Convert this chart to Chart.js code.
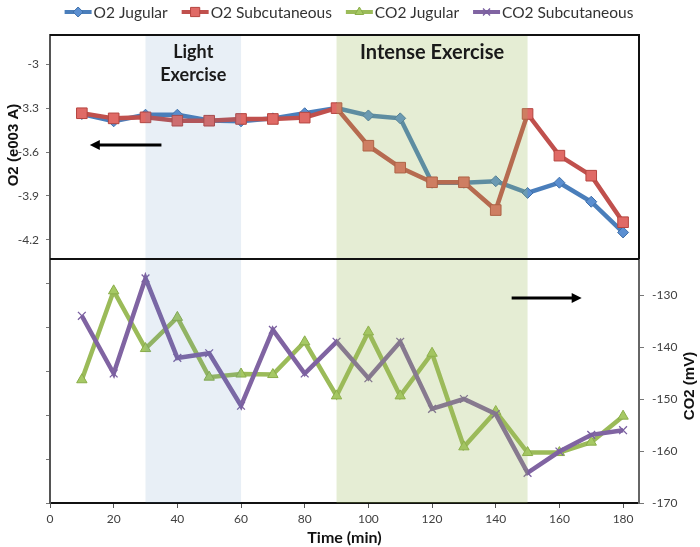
<!DOCTYPE html>
<html><head><meta charset="utf-8">
<script src="https://cdn.jsdelivr.net/npm/chart.js@4/dist/chart.umd.min.js"></script>
<style>html,body{margin:0;padding:0;background:#fff}#wrap{width:700px;height:547px}</style>
</head><body><div id="wrap"><canvas id="c" width="700" height="547"></canvas></div>
<script>
// ---- data ----
const times = [10,20,30,40,50,60,70,80,90,100,110,120,130,140,150,160,170,180];
const o2Jugular = [-3.34,-3.39,-3.345,-3.345,-3.385,-3.39,-3.37,-3.335,-3.30,-3.35,-3.37,-3.81,-3.81,-3.80,-3.88,-3.81,-3.94,-4.15];
const o2Subcutaneous = [-3.335,-3.37,-3.363,-3.386,-3.386,-3.374,-3.374,-3.365,-3.30,-3.557,-3.707,-3.807,-3.807,-3.997,-3.34,-3.625,-3.762,-4.08];
const co2Jugular = [-146.3,-129.2,-140.3,-134.3,-145.8,-145.2,-145.3,-139.0,-149.4,-137.1,-149.4,-141.2,-159.2,-152.4,-160.3,-160.3,-158.3,-153.3];
const co2Subcutaneous = [-134.0,-145.1,-126.8,-142.1,-141.2,-151.3,-136.7,-145.1,-139.0,-146.0,-139.0,-151.9,-150.0,-152.9,-164.2,-160.1,-156.9,-156.0];
const seriesNames = ['O2 Jugular','O2 Subcutaneous','CO2 Jugular','CO2 Subcutaneous'];
const xTickValues = [0,20,40,60,80,100,120,140,160,180];
const o2TickLabels = ['-3','-3.3','-3.6','-3.9','-4.2'];
const o2TickMarks = [-3,-3.3,-3.6,-3.9,-4.2,-4.5,-4.8,-5.1,-5.4,-5.7,-6.0];
const co2TickLabels = [-130,-140,-150,-160,-170];
const phaseLabels = [['Light','Exercise'],['Intense Exercise']];
const phaseStart = [30, 90];
const phaseEnd = [60, 150];
const axisTitles = {x:'Time (min)', o2:'O2 (e003 A)', co2:'CO2 (mV)'};

// ---- style ----
const styles = [
  {line:'#4a7ebb', fill:'#5b8fd1', border:'#3f6fa8', pointStyle:'rectRot', radius:5.5, width:4.5, order:2, axis:'y'},
  {line:'#c0504d', fill:'#e06a66', border:'#b5453f', pointStyle:'rect', radius:7.5, width:4.5, order:1, axis:'y'},
  {line:'#9bbb59', fill:'#a6c964', border:'#8aad49', pointStyle:'triangle', radius:6, width:4.5, order:4, axis:'y2'},
  {line:'#8064a2', fill:'#8064a2', border:'#7a5fa0', pointStyle:'crossRot', radius:5.5, width:4.5, order:3, axis:'y2'}
];
const seriesValues = [o2Jugular, o2Subcutaneous, co2Jugular, co2Subcutaneous];
const O2_DIVIDER = -4.332;  // panel divider level on the O2 scale
const FONT = 'Lato, "Open Sans", sans-serif';
const phaseFontSize = [18, 20];
const phaseFill = ['rgba(79,129,189,0.13)', 'rgba(155,187,89,0.26)'];

const datasets = seriesValues.map((vals, i) => ({
  label: seriesNames[i],
  data: times.map((t, k) => ({x: t, y: vals[k]})),
  yAxisID: styles[i].axis,
  borderColor: styles[i].line,
  borderWidth: styles[i].width,
  backgroundColor: styles[i].fill,
  pointBackgroundColor: styles[i].fill,
  pointBorderColor: styles[i].border,
  pointBorderWidth: styles[i].pointStyle === 'crossRot' ? 1.3 : 1,
  pointStyle: styles[i].pointStyle,
  pointRadius: styles[i].radius,
  tension: 0,
  order: styles[i].order
}));

function marker(ctx, style, r, x, y) {
  ctx.beginPath();
  if (style === 'rect') { const s = r * Math.SQRT1_2; ctx.rect(x - s, y - s, 2*s, 2*s); ctx.fill(); ctx.stroke(); }
  else if (style === 'rectRot') { ctx.moveTo(x, y - r); ctx.lineTo(x + r, y); ctx.lineTo(x, y + r); ctx.lineTo(x - r, y); ctx.closePath(); ctx.fill(); ctx.stroke(); }
  else if (style === 'triangle') { ctx.moveTo(x, y - r); ctx.lineTo(x + r*0.866, y + r/2); ctx.lineTo(x - r*0.866, y + r/2); ctx.closePath(); ctx.fill(); ctx.stroke(); }
  else { const s = r * Math.SQRT1_2; ctx.moveTo(x - s, y - s); ctx.lineTo(x + s, y + s); ctx.moveTo(x + s, y - s); ctx.lineTo(x - s, y + s); ctx.stroke(); }
}

function arrow(ctx, x1, y, x2) {
  const dir = Math.sign(x2 - x1);
  ctx.save();
  ctx.strokeStyle = '#000'; ctx.fillStyle = '#000'; ctx.lineWidth = 3;
  ctx.beginPath(); ctx.moveTo(x1, y); ctx.lineTo(x2 - dir*6, y); ctx.stroke();
  ctx.beginPath(); ctx.moveTo(x2, y); ctx.lineTo(x2 - dir*10, y - 5); ctx.lineTo(x2 - dir*10, y + 5); ctx.closePath(); ctx.fill();
  ctx.restore();
}

const decor = {
  id: 'decor',
  afterDatasetsDraw(chart) {
    const {ctx, chartArea: ca, scales: {x, y, y2}} = chart;
    ctx.save();
    // phase overlays (semi-transparent, in front of lines like the original)
    for (let i = 0; i < phaseStart.length; i++) {
      const a = x.getPixelForValue(phaseStart[i]), b = x.getPixelForValue(phaseEnd[i]);
      ctx.fillStyle = phaseFill[i];
      ctx.fillRect(a, ca.top, b - a, ca.bottom - ca.top);
    }
    // phase labels
    ctx.fillStyle = '#1a1a1a';
    ctx.textAlign = 'center'; ctx.textBaseline = 'middle';
    phaseLabels.forEach((lines, i) => {
      ctx.font = 'bold ' + phaseFontSize[i] + 'px ' + FONT;
      const cx = (x.getPixelForValue(phaseStart[i]) + x.getPixelForValue(phaseEnd[i])) / 2;
      const y0 = lines.length > 1 ? 52 : 53;
      lines.forEach((t, k) => ctx.fillText(t, cx, y0 + k * 23));
    });
    // frame of upper panel
    const dy = Math.round(y.getPixelForValue(O2_DIVIDER));
    ctx.strokeStyle = '#111'; ctx.lineWidth = 2;
    ctx.beginPath();
    ctx.moveTo(ca.left, ca.top); ctx.lineTo(ca.right, ca.top); ctx.lineTo(ca.right, dy);
    ctx.moveTo(ca.left, dy); ctx.lineTo(ca.right, dy);
    ctx.stroke();
    // arrows
    arrow(ctx, x.getPixelForValue(35), y.getPixelForValue(-3.552), x.getPixelForValue(12.5));
    arrow(ctx, x.getPixelForValue(145), y2.getPixelForValue(-130.6), x.getPixelForValue(167));
    ctx.restore();
  },
  afterDraw(chart) {
    const {ctx, chartArea: ca, scales: {y}} = chart;
    const dy = y.getPixelForValue(O2_DIVIDER);
    ctx.save();
    // vertical axis titles
    ctx.fillStyle = '#111'; ctx.textAlign = 'center'; ctx.textBaseline = 'middle';
    ctx.font = 'bold 15px "Liberation Sans", Arial, sans-serif';
    ctx.save(); ctx.translate(14, (ca.top + dy) / 2 - 2); ctx.rotate(-Math.PI/2); ctx.fillText(axisTitles.o2, 0, 0); ctx.restore();
    ctx.save(); ctx.translate(690, (dy + ca.bottom) / 2 + 5); ctx.rotate(-Math.PI/2); ctx.fillText(axisTitles.co2, 0, 0); ctx.restore();
    // legend
    ctx.font = '15.5px ' + FONT;
    const iconW = 27, gapIT = 2, gapItems = 14;
    const widths = seriesNames.map(n => ctx.measureText(n).width);
    const total = widths.reduce((s, w) => s + iconW + gapIT + w, 0) + gapItems * (seriesNames.length - 1);
    let cx = 349 - total / 2;
    const ly = 12;
    seriesNames.forEach((n, i) => {
      const st = styles[i];
      ctx.strokeStyle = st.line; ctx.lineWidth = 4;
      ctx.beginPath(); ctx.moveTo(cx, ly); ctx.lineTo(cx + iconW, ly); ctx.stroke();
      ctx.fillStyle = st.fill; ctx.strokeStyle = st.border; ctx.lineWidth = st.pointStyle === 'crossRot' ? 1.3 : 1;
      marker(ctx, st.pointStyle, st.pointStyle === 'rect' ? 6.5 : 5, cx + iconW/2, ly);
      ctx.fillStyle = '#333'; ctx.textAlign = 'left';
      ctx.fillText(n, cx + iconW + gapIT, ly + 1);
      cx += iconW + gapIT + widths[i] + gapItems;
    });
    ctx.restore();
  }
};

const tickFont = {family: FONT, size: 12};
new Chart(document.getElementById('c'), {
  type: 'line',
  data: {datasets},
  options: {
    responsive: false, animation: false, devicePixelRatio: 1,
    layout: {padding: {top: 35, left: 0, right: 0, bottom: 0}},
    plugins: {legend: {display: false}, tooltip: {enabled: false}},
    scales: {
      x: {
        type: 'linear', min: 0, max: 185,
        afterBuildTicks: s => { s.ticks = xTickValues.map(v => ({value: v})); },
        afterFit: s => { s.height = 44; },
        grid: {drawOnChartArea: false, tickLength: 5, color: '#555'},
        border: {color: '#111', width: 2},
        ticks: {font: tickFont, color: '#404040', padding: 4, maxRotation: 0, autoSkip: false},
        title: {display: true, text: axisTitles.x, font: {family: FONT, size: 16, weight: 'bold'}, color: '#111', padding: {top: 0, bottom: 0}}
      },
      y: {
        type: 'linear', position: 'left', min: -6.0, max: -2.8,
        afterBuildTicks: s => { s.ticks = o2TickMarks.map(v => ({value: v})); },
        afterFit: s => { s.width = 50; },
        grid: {drawOnChartArea: false, tickLength: 4, color: '#777'},
        border: {color: '#555', width: 2},
        ticks: {font: tickFont, color: '#404040', padding: 7, autoSkip: false,
          callback: (v) => { const i = o2TickLabels.findIndex(l => Math.abs(parseFloat(l) - v) < 1e-6); return i >= 0 ? o2TickLabels[i] : ''; }}
      },
      y2: {
        type: 'linear', position: 'right', min: -170, max: -80,
        afterBuildTicks: s => { s.ticks = co2TickLabels.map(v => ({value: v})); },
        afterFit: s => { s.width = 61; },
        grid: {drawOnChartArea: false, tickLength: 5, color: '#777'},
        border: {color: '#666', width: 2},
        ticks: {font: tickFont, color: '#404040', padding: 8, autoSkip: false}
      }
    }
  },
  plugins: [decor]
});
</script>
</body></html>
